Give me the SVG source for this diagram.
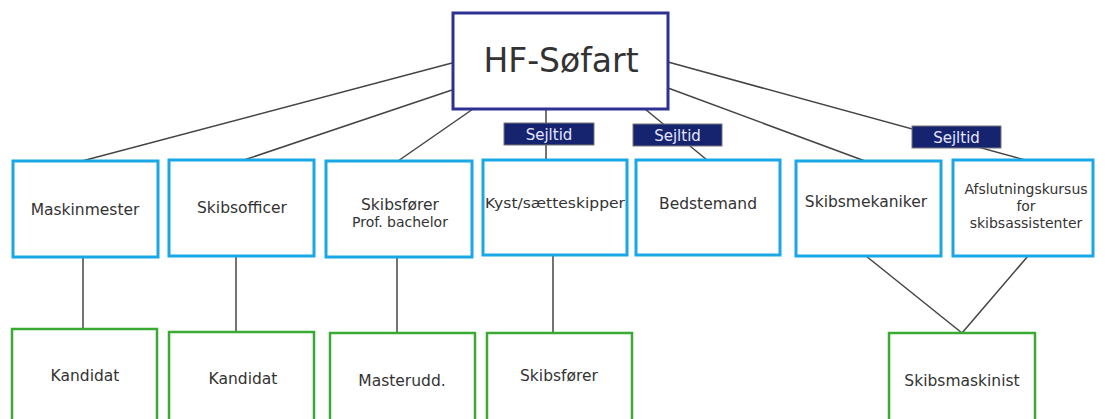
<svg xmlns="http://www.w3.org/2000/svg" width="1105" height="419" viewBox="0 0 1105 419">
<style>
.bg{fill:#ffffff}
.top{fill:#fff;stroke:#2e3192;stroke-width:3}
.blue{fill:#fff;stroke:#1aa7e6;stroke-width:3}
.green{fill:#fff;stroke:#3aaa35;stroke-width:2.5}
.tag{fill:#16236f;stroke:#777;stroke-width:1}
.conn line{stroke:#444;stroke-width:1.5}
text{font-family:"DejaVu Sans",Verdana,sans-serif;fill:#333;text-anchor:middle}
.t{font-size:15.5px}
.tt{fill:#e4e6ff;font-size:15px}
.af{font-size:14px}
</style>
<rect class="bg" width="1105" height="419"/>
<g id="connectors" class="conn">
<line x1="452" y1="63" x2="82" y2="161"/>
<line x1="452" y1="90" x2="244" y2="160"/>
<line x1="473" y1="109" x2="398" y2="161"/>
<line x1="546" y1="109" x2="546" y2="160"/>
<line x1="645" y1="109" x2="707" y2="160"/>
<line x1="668" y1="88" x2="865" y2="161"/>
<line x1="668" y1="62" x2="1025" y2="160"/>
<line x1="83" y1="257" x2="83" y2="329"/>
<line x1="236" y1="256" x2="236" y2="332"/>
<line x1="397" y1="257" x2="397" y2="333"/>
<line x1="553" y1="255" x2="553" y2="333"/>
<line x1="866" y1="256" x2="962" y2="333"/>
<line x1="1028" y1="256" x2="962" y2="333"/>
</g>
<g id="hf-sofart">
<rect class="top" x="453" y="13" width="215" height="96"/>
<text x="561" y="72" style="font-size:33px">HF-Søfart</text>
</g>
<g id="tag1"><rect class="tag" x="504" y="123" width="90" height="22"/><text class="tt" x="549" y="139.5">Sejltid</text></g>
<g id="tag2"><rect class="tag" x="633" y="124" width="89" height="22"/><text class="tt" x="677.5" y="140.5">Sejltid</text></g>
<g id="tag3"><rect class="tag" x="912" y="126" width="89" height="22"/><text class="tt" x="956.5" y="142.5">Sejltid</text></g>
<g id="maskinmester"><rect class="blue" x="13" y="161" width="145" height="96"/><text class="t" x="85" y="215">Maskinmester</text></g>
<g id="skibsofficer"><rect class="blue" x="169" y="160" width="145" height="96"/><text class="t" x="242" y="213">Skibsofficer</text></g>
<g id="skibsforer-prof"><rect class="blue" x="326" y="161" width="146" height="96"/><text class="t" x="400" y="210">Skibsfører</text><text x="400" y="227" style="font-size:14px">Prof. bachelor</text></g>
<g id="kyst"><rect class="blue" x="483" y="160" width="144" height="95"/><text x="555" y="208" style="font-size:14.5px" textLength="140" lengthAdjust="spacingAndGlyphs">Kyst/sætteskipper</text></g>
<g id="bedstemand"><rect class="blue" x="636" y="160" width="144" height="95"/><text class="t" x="708" y="209">Bedstemand</text></g>
<g id="skibsmekaniker"><rect class="blue" x="796" y="161" width="145" height="95"/><text class="t" x="866" y="207">Skibsmekaniker</text></g>
<g id="afslutning"><rect class="blue" x="953" y="160" width="140" height="96"/><text class="af" x="1026" y="194">Afslutningskursus</text><text class="af" x="1026" y="211">for</text><text class="af" x="1026" y="228">skibsassistenter</text></g>
<g id="kandidat1"><rect class="green" x="12" y="329" width="145" height="100"/><text class="t" x="85" y="381">Kandidat</text></g>
<g id="kandidat2"><rect class="green" x="169" y="332" width="145" height="100"/><text class="t" x="243" y="384">Kandidat</text></g>
<g id="masterudd"><rect class="green" x="330" y="333" width="145" height="100"/><text class="t" x="402" y="386">Masterudd.</text></g>
<g id="skibsforer"><rect class="green" x="487" y="333" width="145" height="100"/><text class="t" x="559" y="381">Skibsfører</text></g>
<g id="skibsmaskinist"><rect class="green" x="889" y="333" width="146" height="100"/><text class="t" x="962" y="386">Skibsmaskinist</text></g>
</svg>
